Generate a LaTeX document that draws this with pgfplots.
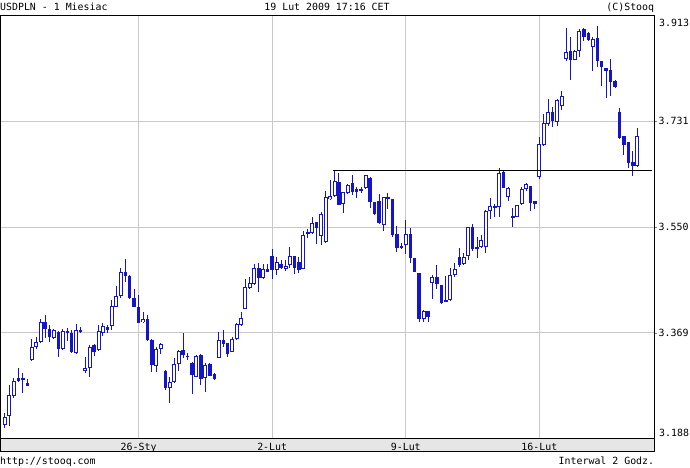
\documentclass[border=0pt]{standalone}
\usepackage{pgfplots}
\pgfplotsset{compat=1.18}
\usepackage{pgfplotstable}
\usepackage{fontspec}
\setmainfont{DejaVu Sans Mono}

\definecolor{candle}{RGB}{20,20,205}
\definecolor{gridgray}{RGB}{200,200,200}
\definecolor{bandgray}{RGB}{230,230,230}

% 2-hour candles, USDPLN: index, open, high, low, close
\pgfplotstableread{
i o h l c
0 3.2112 3.2312 3.2055 3.2254
1 3.2271 3.2797 3.2100 3.2626
2 3.2614 3.2922 3.2569 3.2866
3 3.2922 3.3083 3.2854 3.2871
4 3.2922 3.2998 3.2655 3.2894
5 3.2837 3.2894 3.2785 3.2785
6 3.3226 3.3581 3.3215 3.3454
7 3.3454 3.3615 3.3415 3.3529
8 3.3540 3.3924 3.3513 3.3878
9 3.3878 3.3998 3.3598 3.3763
10 3.3763 3.3821 3.3540 3.3615
11 3.3598 3.3753 3.3586 3.3741
12 3.3712 3.3724 3.3283 3.3410
13 3.3410 3.3753 3.3398 3.3724
14 3.3724 3.3770 3.3557 3.3684
15 3.3684 3.3741 3.3341 3.3369
16 3.3341 3.3844 3.3329 3.3741
17 3.3741 3.3787 3.3684 3.3712
18 3.3043 3.3283 3.3009 3.3095
19 3.3083 3.3484 3.2940 3.3454
20 3.3484 3.3495 3.3295 3.3369
21 3.3398 3.3827 3.3386 3.3724
22 3.3695 3.3866 3.3643 3.3810
23 3.3798 3.3821 3.3695 3.3741
24 3.3810 3.4255 3.3741 3.4152
25 3.4140 3.4495 3.4130 3.4324
26 3.4329 3.4798 3.4294 3.4730
27 3.4730 3.4952 3.4569 3.4661
28 3.4666 3.4680 3.4270 3.4284
29 3.4294 3.4438 3.4130 3.4140
30 3.4140 3.4341 3.3855 3.3866
31 3.3873 3.4049 3.3866 3.3924
32 3.3924 3.3993 3.3557 3.3569
33 3.3569 3.3581 3.3015 3.3135
34 3.3129 3.3454 3.3026 3.3415
35 3.3410 3.3513 3.3329 3.3495
36 3.3043 3.3055 3.2712 3.2740
37 3.2740 3.2940 3.2483 3.2843
38 3.2843 3.3255 3.2826 3.3152
39 3.3152 3.3398 3.3043 3.3386
40 3.3398 3.3695 3.3255 3.3312
41 3.3295 3.3353 3.3226 3.3290
42 3.3180 3.3198 3.2638 3.2969
43 3.2940 3.3312 3.2929 3.3295
44 3.3312 3.3324 3.2797 3.2894
45 3.2911 3.3169 3.2683 3.3140
46 3.3158 3.3169 3.2952 3.2957
47 3.2986 3.3009 3.2883 3.2906
48 3.3266 3.3712 3.3255 3.3569
49 3.3569 3.3741 3.3454 3.3501
50 3.3513 3.3513 3.3283 3.3329
51 3.3369 3.3615 3.3358 3.3586
52 3.3581 3.3855 3.3569 3.3838
53 3.3827 3.4044 3.3815 3.3941
54 3.4096 3.4615 3.4096 3.4473
55 3.4456 3.4654 3.4438 3.4552
56 3.4524 3.4872 3.4512 3.4798
57 3.4798 3.4884 3.4397 3.4627
58 3.4627 3.4872 3.4610 3.4786
59 3.4781 3.4872 3.4730 3.4740
60 3.5009 3.5124 3.4610 3.4769
61 3.4769 3.4997 3.4683 3.4911
62 3.4872 3.4941 3.4781 3.4798
63 3.4786 3.4941 3.4752 3.4843
64 3.4855 3.5158 3.4798 3.5014
65 3.5014 3.5014 3.4695 3.4798
66 3.4906 3.4986 3.4712 3.4769
67 3.4781 3.5438 3.4781 3.5364
68 3.5409 3.5467 3.5312 3.5415
69 3.5409 3.5672 3.5386 3.5580
70 3.5592 3.5592 3.5215 3.5484
71 3.5352 3.5768 3.5197 3.5729
72 3.5255 3.6129 3.5226 3.6015
73 3.5981 3.6312 3.5969 3.6038
74 3.6038 3.6471 3.6026 3.6295
75 3.6283 3.6426 3.5883 3.5883
76 3.5895 3.6112 3.5741 3.6101
77 3.6095 3.6238 3.6072 3.6221
78 3.6266 3.6398 3.6055 3.6101
79 3.6152 3.6187 3.5998 3.6101
80 3.6141 3.6197 3.6084 3.6152
81 3.6170 3.6398 3.6152 3.6392
82 3.6341 3.6369 3.5836 3.5929
83 3.5929 3.5929 3.5712 3.5729
84 3.5957 3.6072 3.5558 3.5570
85 3.5535 3.6026 3.5443 3.6026
86 3.6015 3.6084 3.5810 3.5986
87 3.5986 3.5986 3.5340 3.5369
88 3.5386 3.5523 3.5083 3.5141
89 3.5180 3.5226 3.5129 3.5141
90 3.5197 3.5626 3.5038 3.5386
91 3.5386 3.5484 3.4884 3.4970
92 3.4980 3.4980 3.4730 3.4740
93 3.4712 3.4723 3.3883 3.3924
94 3.3929 3.4083 3.3873 3.4072
95 3.4066 3.4066 3.3873 3.3969
96 3.4541 3.4684 3.4267 3.4654
97 3.4654 3.4855 3.4443 3.4529
98 3.4512 3.4512 3.4186 3.4209
99 3.4255 3.4666 3.4221 3.4226
100 3.4255 3.4798 3.4238 3.4684
101 3.4684 3.4884 3.4654 3.4786
102 3.4997 3.5141 3.4826 3.4855
103 3.4872 3.5055 3.4855 3.4997
104 3.5009 3.5511 3.4941 3.5501
105 3.5501 3.5558 3.5100 3.5129
106 3.5158 3.5330 3.4970 3.5124
107 3.5168 3.5369 3.5141 3.5283
108 3.5158 3.5798 3.5066 3.5781
109 3.5781 3.5998 3.5638 3.5866
110 3.5866 3.5900 3.5683 3.5837
111 3.5854 3.6512 3.5683 3.6437
112 3.6454 3.6471 3.6170 3.6170
113 3.6015 3.6187 3.5957 3.6170
114 3.5683 3.5827 3.5501 3.5690
115 3.5683 3.5883 3.5672 3.5883
116 3.5895 3.6187 3.5883 3.6152
117 3.6152 3.6266 3.6123 3.6238
118 3.6209 3.6209 3.5780 3.5912
119 3.5952 3.5960 3.5815 3.5909
120 3.6368 3.7044 3.6329 3.6929
121 3.6917 3.7443 3.6900 3.7284
122 3.7271 3.7700 3.7242 3.7472
123 3.7483 3.7558 3.7225 3.7318
124 3.7311 3.7700 3.7242 3.7683
125 3.7585 3.7832 3.7512 3.7757
126 3.8386 3.8917 3.8357 3.8500
127 3.8528 3.8768 3.8031 3.8374
128 3.8374 3.8540 3.8369 3.8528
129 3.8518 3.8900 3.8425 3.8871
130 3.8900 3.8917 3.8689 3.8758
131 3.8831 3.8843 3.8699 3.8711
132 3.8597 3.8758 3.8175 3.8729
133 3.8746 3.8956 3.8243 3.8346
134 3.8346 3.8346 3.7928 3.8243
135 3.8231 3.8231 3.7712 3.8185
136 3.8202 3.8386 3.7757 3.7997
137 3.8014 3.8026 3.7884 3.7901
138 3.7483 3.7546 3.7015 3.7032
139 3.7071 3.7071 3.6740 3.6917
140 3.6958 3.6958 3.6517 3.6598
141 3.6615 3.6814 3.6375 3.6557
142 3.6546 3.7198 3.6529 3.7061
}\candles

\pgfplotsset{
    candlepart/.style={only marks, mark=*, mark size=0pt,
        mark options={draw=none, fill=none}, forget plot},
}

\begin{document}
\begin{tikzpicture}[font=\fontsize{9.9}{11}\selectfont]
\useasboundingbox (0,0) rectangle (690pt,467pt);
% grey band under the plot that holds the dates
\filldraw[fill=bandgray, draw=black, line width=0.8pt] (0pt,15.3pt) rectangle (654.3pt,28.4pt);
\begin{axis}[
    name=main, at={(0pt,28.4pt)}, anchor=south west,
    scale only axis, width=654.3pt, height=423pt,
    xmin=-1.123, xmax=145.81,
    ymin=3.188, ymax=3.913,
    axis line style={line width=0.8pt},
    xtick={30,60,90,120},
    xticklabels={26-Sty,2-Lut,9-Lut,16-Lut},
    xtick style={draw=none},
    xticklabel style={anchor=base, inner sep=0pt, yshift=-9.1pt},
    ytick={3.36925,3.5505,3.73175},
    yticklabels={3.369,3.550,3.731},
    ytick pos=right, yticklabel pos=right,
    yticklabel style={anchor=west, inner sep=0pt, xshift=1.2pt},
    tick align=outside, major tick length=3pt,
    grid=major, major grid style={gridgray, line width=0.8pt},
    /pgf/number format/assume math mode=true,
]
% wicks
\addplot[candlepart,
    error bars/.cd, y dir=both, y explicit, error mark=none,
    error bar style={candle, line width=1pt}]
    table[x=i, y expr={(\thisrow{h}+\thisrow{l})/2},
          y error expr={(\thisrow{h}-\thisrow{l})/2}] {\candles};
% falling candles: filled bodies
\addplot[candlepart,
    restrict expr to domain={\thisrow{c}-\thisrow{o}}{-1:-0.00001},
    error bars/.cd, y dir=both, y explicit, error mark=none,
    error bar style={candle, line width=3.4pt}]
    table[x=i, y expr={(\thisrow{o}+\thisrow{c})/2},
          y error expr={max(abs(\thisrow{c}-\thisrow{o})/2,0.0009)}] {\candles};
% rising candles: hollow bodies
\addplot[candlepart,
    restrict expr to domain={\thisrow{c}-\thisrow{o}}{0:1},
    error bars/.cd, y dir=both, y explicit, error mark=none,
    error bar style={candle, line width=4pt}]
    table[x=i, y expr={(\thisrow{o}+\thisrow{c})/2},
          y error expr={max(abs(\thisrow{c}-\thisrow{o})/2,0.0009)}] {\candles};
\addplot[candlepart,
    restrict expr to domain={\thisrow{c}-\thisrow{o}}{0:1},
    error bars/.cd, y dir=both, y explicit, error mark=none,
    error bar style={white, line width=2pt}]
    table[x=i, y expr={(\thisrow{o}+\thisrow{c})/2},
          y error expr={max(abs(\thisrow{c}-\thisrow{o})/2-0.0017,0)}] {\candles};
% resistance line
\addplot[black, line width=0.9pt, forget plot] coordinates {(73.7,3.647) (145.2,3.647)};
\end{axis}
\node[anchor=base west, inner sep=0pt] at (0pt,456.3pt) {USDPLN - 1 Miesiac};
\node[anchor=base, inner sep=0pt] at (327pt,456.3pt) {19 Lut 2009 17:16 CET};
\node[anchor=base east, inner sep=0pt] at (654.3pt,456.3pt) {(C)Stooq};
\node[anchor=base west, inner sep=0pt] at (659pt,440.3pt) {3.913};
\node[anchor=base west, inner sep=0pt] at (659pt,30.3pt) {3.188};
\node[anchor=base west, inner sep=0pt] at (0pt,2.7pt) {http://stooq.com};
\node[anchor=base east, inner sep=0pt] at (654.3pt,2.7pt) {Interwal 2 Godz.};
\end{tikzpicture}
\end{document}
